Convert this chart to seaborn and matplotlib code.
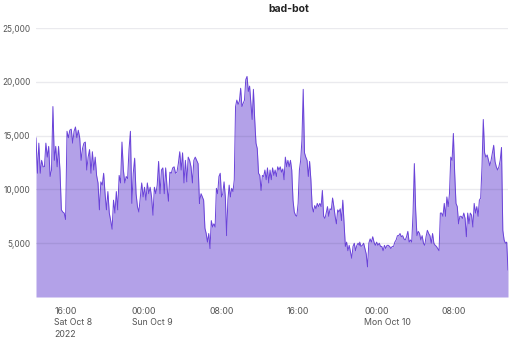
import numpy as np
import pandas as pd
import matplotlib
matplotlib.use("Agg")
import matplotlib.pyplot as plt
import seaborn as sns

# ---- data (requests count) ----
seg1_start, seg1_end = "2022-10-08 14:07", "2022-10-09 06:59"
seg1 = [14800, 11500, 14300, 11500, 12700, 12100, 12100, 14300, 13000, 14000,
        11200, 11800, 17700, 12700, 14000, 12100, 14000, 11800, 8100, 7900,
        7800, 7200, 15400, 14800, 15500, 15600, 14300, 15400, 15800, 14800,
        15500, 14800, 12700, 13800, 14300, 14400, 11800, 13000, 13700, 11500,
        13500, 11800, 13000, 11300, 10600, 8100, 10700, 10400, 11500, 9600,
        8100, 9800, 7800, 7100, 6300, 9000, 7800, 9800, 8100, 11300,
        10600, 14400, 11800, 10600, 11200, 11000, 13700, 15400, 8700, 11500,
        12900, 9600, 8400, 7900, 9300, 10600, 9300, 10200, 9000, 10600,
        9600, 10200, 9300, 7600, 10200, 9600, 10400, 12600, 9600, 11800,
        12000, 9600, 12000, 10200, 8900, 11600, 11500, 12000, 12100, 11500,
        11600, 12400, 13500, 11800, 13400, 10600, 12700, 10700, 13000, 12700,
        12100, 10600, 12700, 13000, 12700, 12400, 8700]

seg2_start, seg2_end = "2022-10-09 07:01", "2022-10-09 23:29"
seg2 = [9000, 9600, 9300, 9000, 6400, 5900, 5100, 5900, 4500, 7100,
        6500, 6800, 6500, 10100, 9600, 11200, 11500, 9300, 9600, 10700,
        9300, 5700, 9000, 10400, 9300, 10100, 9800, 10900, 17700, 18300,
        17900, 18200, 19400, 17700, 18000, 18300, 20200, 20500, 19100, 19600,
        18000, 16500, 19300, 16500, 14300, 13800, 11500, 11300, 9900, 11300,
        11200, 11800, 10900, 12000, 10600, 11800, 10900, 12000, 11300, 11800,
        11200, 12100, 11800, 12100, 11600, 11900, 10900, 13000, 12100, 12700,
        12100, 12700, 11800, 9000, 7900, 7600, 7500, 8700, 11800, 12700,
        14600, 19300, 13400, 13000, 12700, 11200, 12600, 10900, 8400, 7900,
        8500, 8200, 8700, 8400, 8700, 8400, 9900, 7500, 7300, 7800,
        8400, 7500, 8200, 8100, 9200, 8400, 7500, 6800, 8100, 7900,
        8200, 7100, 9000, 6800, 4700, 5100, 4300, 4800, 4200, 3600,
        4700, 5000, 4300, 4800, 5000, 4800]

seg3_start, seg3_end = "2022-10-09 23:31", "2022-10-10 14:49"
seg3 = [5100, 4700, 4800, 5000, 4500, 4000, 2800, 5000, 5400, 5100,
        5600, 5100, 4800, 5100, 4800, 5000, 4700, 4700, 4300, 4800,
        4500, 4800, 4800, 4700, 4500, 4700, 4700, 5100, 5300, 5700,
        5700, 5900, 5600, 5700, 5400, 5300, 5600, 6100, 5100, 5300,
        5100, 7800, 12400, 8100, 5700, 6100, 5900, 5300, 5700, 5000,
        4800, 5600, 6200, 5900, 5700, 5000, 5900, 5000, 4800, 4700,
        4500, 4300, 7800, 7800, 7500, 8700, 7500, 9300, 8400, 9600,
        13000, 12700, 15200, 11500, 8700, 8400, 6800, 7500, 7500, 7300,
        7800, 7300, 5600, 7800, 6800, 7800, 7600, 6500, 8700, 7800,
        8400, 7500, 9000, 9200, 12100, 16500, 13400, 13000, 13200, 12700,
        12200, 12700, 13400, 14100, 12600, 12100, 11800, 12100, 12700, 13900,
        6200, 5300, 5000, 5100, 2500]

y_ticks = [5000, 10000, 15000, 20000, 25000]
y_tick_labels = ["5,000", "10,000", "15,000", "20,000", "25,000"]
x_ticks = ["2022-10-08 16:00", "2022-10-09 00:00", "2022-10-09 08:00",
           "2022-10-09 16:00", "2022-10-10 00:00", "2022-10-10 08:00"]
x_tick_labels = ["16:00\nSat Oct 8\n2022", "00:00\nSun Oct 9", "08:00",
                 "16:00", "00:00\nMon Oct 10", "08:00"]
title = "bad-bot"
y_label = "Count of records"

# ---- build table ----
parts = []
for s, e, v in [(seg1_start, seg1_end, seg1), (seg2_start, seg2_end, seg2),
                (seg3_start, seg3_end, seg3)]:
    parts.append(pd.DataFrame({"time": pd.date_range(s, e, periods=len(v)),
                               "count": v}))
df = pd.concat(parts, ignore_index=True)

# ---- style ----
sns.set_theme(style="white")
plt.rcParams["font.family"] = ["Inter", "DejaVu Sans"]

fill_color = "#B3A1E8"
line_color = "#6A43D9"
text_color = "#555555"

fig = plt.figure(figsize=(5.12, 3.4), dpi=100)
ax = fig.add_axes([36 / 512, 43 / 340, 472 / 512, 269 / 340])

ax.fill_between(df["time"], 0, df["count"], color=fill_color, lw=0, zorder=1)
sns.lineplot(data=df, x="time", y="count", ax=ax, color=line_color,
             linewidth=0.7, zorder=2)

ax.set_ylim(0, 25000)
ax.set_xlim(df["time"].iloc[0], df["time"].iloc[-1])

ax.set_yticks(y_ticks)
ax.set_yticklabels(y_tick_labels)
ax.set_xticks(pd.to_datetime(x_ticks))
ax.set_xticklabels(x_tick_labels)
for lab in ax.get_xticklabels():
    lab.set_ha("left")
    lab.set_linespacing(1.35)

ax.tick_params(axis="y", length=0, pad=4, labelsize=5.9, labelcolor=text_color)
ax.tick_params(axis="x", length=5, width=0.8, color="#D8D8DE", pad=2,
               labelsize=6.3, labelcolor=text_color, direction="out")

for y in y_ticks:
    ax.axhline(y, color=(0.2, 0.2, 0.35, 0.10), lw=1.0, zorder=3)

for sp in ax.spines.values():
    sp.set_visible(False)

ax.set_xlabel("")
ax.set_ylabel("")

fig.text(289 / 512, 1 - 9 / 340, title, ha="center", va="center",
         fontsize=7.5, fontweight="bold", color="#222222")
fig.text(-0.007, 1 - 160 / 340, y_label, rotation=90, ha="center",
         va="center", fontsize=6.5, color="#999999")

fig.savefig("out.png", dpi=100)
